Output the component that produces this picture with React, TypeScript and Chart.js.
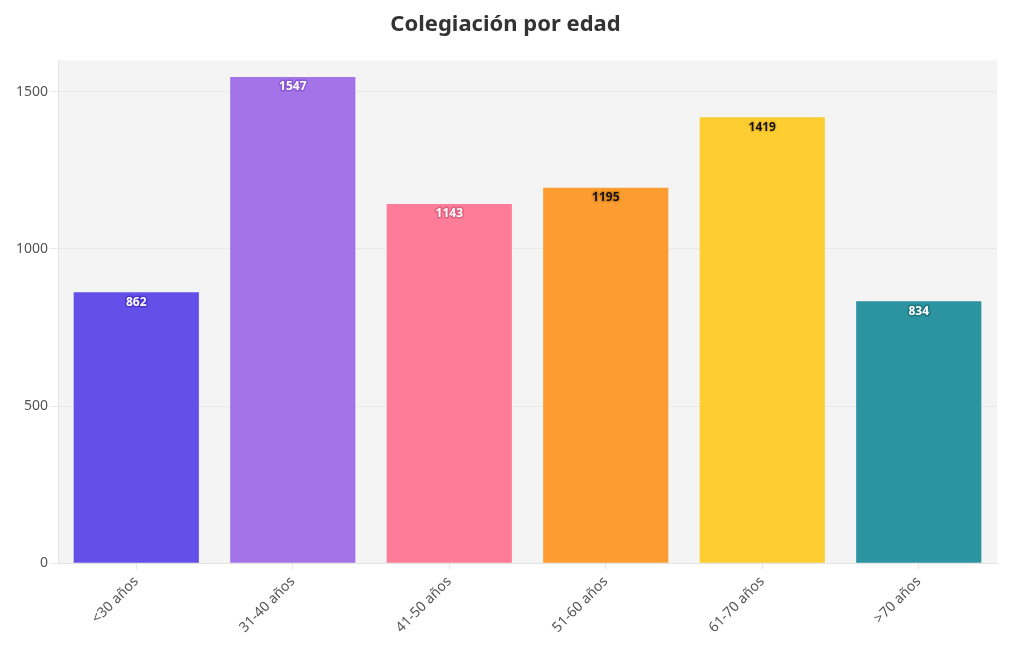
import React, { useEffect, useRef } from "react";
import { Chart, registerables } from "chart.js";

Chart.register(...registerables);

const categories = ["<30 años", "31-40 años", "41-50 años", "51-60 años", "61-70 años", ">70 años"];
const values = [862, 1547, 1143, 1195, 1419, 834];
const barColors = ["#6450e8", "#a473e8", "#fe7c98", "#fd9c31", "#fdcd31", "#2c93a0"];
const labelFill = ["#ffffff", "#ffffff", "#ffffff", "#111111", "#111111", "#ffffff"];
const labelHalo = ["#4a36c8", "#8a58d0", "#e0607f", "#e0861f", "#f0be28", "#1f7580"];
const yTicks = [0, 500, 1000, 1500];

const bgPlugin = {
  id: "plotBg",
  beforeDraw(chart: any) {
    const { ctx, chartArea } = chart;
    ctx.save();
    ctx.fillStyle = "#f4f4f4";
    ctx.fillRect(chartArea.left, chartArea.top, chartArea.right - chartArea.left, chartArea.bottom - chartArea.top);
    ctx.restore();
  },
};

const labelPlugin = {
  id: "barLabels",
  afterDatasetsDraw(chart: any) {
    const { ctx } = chart;
    const meta = chart.getDatasetMeta(0);
    ctx.save();
    ctx.font = "bold 12px 'Noto Sans', sans-serif";
    ctx.textAlign = "center";
    ctx.textBaseline = "middle";
    ctx.lineJoin = "round";
    meta.data.forEach((bar: any, i: number) => {
      const txt = String(values[i]);
      const y = bar.y + 10;
      ctx.lineWidth = 3;
      ctx.strokeStyle = labelHalo[i];
      ctx.strokeText(txt, bar.x, y);
      ctx.fillStyle = labelFill[i];
      ctx.fillText(txt, bar.x, y);
    });
    ctx.restore();
  },
};

export default function App() {
  const ref = useRef<HTMLCanvasElement>(null);
  useEffect(() => {
    if (!ref.current) return;
    const chart = new Chart(ref.current, {
      type: "bar",
      data: {
        labels: categories,
        datasets: [
          {
            data: values,
            backgroundColor: barColors,
            borderColor: barColors,
            borderWidth: 0,
            barPercentage: 0.8,
            categoryPercentage: 1,
          },
        ],
      },
      options: {
        animation: false,
        responsive: true,
        maintainAspectRatio: false,
        layout: { padding: { top: 4, left: 6, right: 15, bottom: 0 } },
        plugins: {
          legend: { display: false },
          tooltip: { enabled: false },
          title: {
            display: true,
            text: "Colegiación por edad",
            color: "#333333",
            font: { size: 22, weight: "bold", family: "'Noto Sans', sans-serif" },
            padding: { top: 0, bottom: 22 },
          },
        },
        scales: {
          x: {
            grid: { display: true, drawOnChartArea: false, offset: false, color: "#e4e4e4", tickLength: 6 },
            border: { display: true, color: "#e4e4e4" },
            ticks: {
              color: "#555555",
              font: { size: 14, family: "'Noto Sans', sans-serif" },
              maxRotation: 45,
              minRotation: 45,
              padding: 4,
            },
          },
          y: {
            min: 0,
            max: 1600,
            afterBuildTicks: (scale: any) => {
              scale.ticks = yTicks.map((v) => ({ value: v }));
            },
            grid: { color: "#e9e9e9", tickLength: 8 },
            border: { display: true, color: "#e4e4e4" },
            ticks: {
              color: "#555555",
              font: { size: 14, family: "'Noto Sans', sans-serif" },
              padding: 2,
              callback: (v: any) => String(v),
            },
          },
        },
      },
      plugins: [bgPlugin, labelPlugin],
    });
    return () => chart.destroy();
  }, []);
  return (
    <div style={{ width: 1004, height: 632, position: "relative" }}>
      <canvas ref={ref} />
    </div>
  );
}
